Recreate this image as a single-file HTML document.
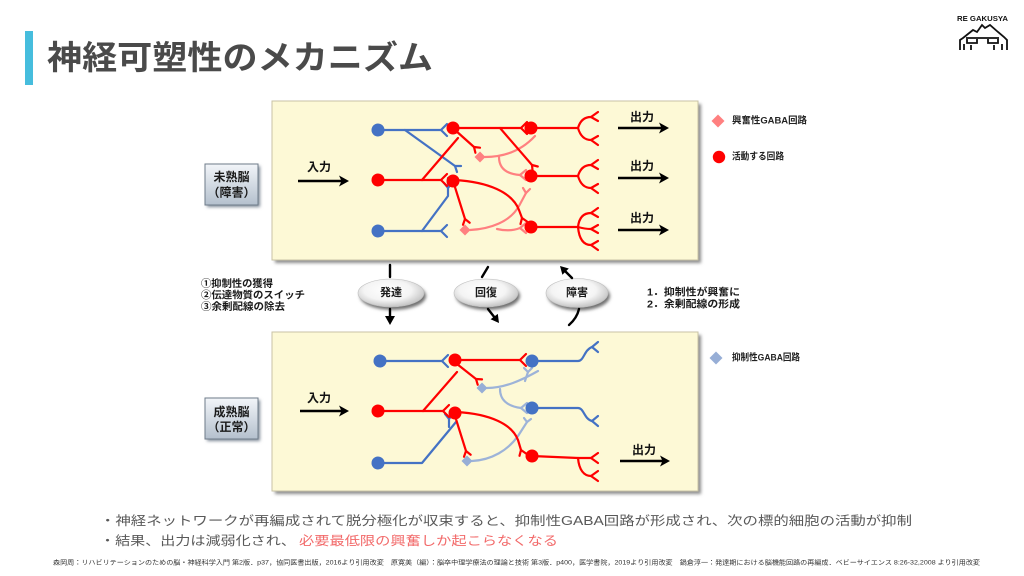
<!DOCTYPE html>
<html><head><meta charset="utf-8">
<style>
html,body{margin:0;padding:0;background:#fff;}
svg{display:block;}
text{font-family:"Liberation Sans","Noto Sans CJK JP",sans-serif;}
</style></head>
<body>
<svg width="1024" height="576" viewBox="0 0 1024 576" xmlns="http://www.w3.org/2000/svg">
<defs>
<filter id="blur" x="-20%" y="-20%" width="140%" height="140%"><feGaussianBlur stdDeviation="1.5"/></filter>
<radialGradient id="ell" cx="45%" cy="40%" r="60%">
<stop offset="0" stop-color="#ffffff"/><stop offset="0.6" stop-color="#f4f4f4"/><stop offset="1" stop-color="#c4c4c4"/>
</radialGradient>
<linearGradient id="btn" x1="0" y1="0" x2="0" y2="1">
<stop offset="0" stop-color="#f2f5f9"/><stop offset="1" stop-color="#b4c0cd"/>
</linearGradient>
</defs>

<!-- title -->
<rect x="25" y="31" width="8" height="54" fill="#46bddd"/>
<text x="47" y="57.5" font-size="33" font-weight="bold" fill="#4a4a4a" dominant-baseline="central" textLength="386" lengthAdjust="spacingAndGlyphs">神経可塑性のメカニズム</text>

<!-- logo -->
<text x="957" y="19.5" font-size="7" font-weight="bold" fill="#111" dominant-baseline="central" textLength="51" lengthAdjust="spacingAndGlyphs">RE GAKUSYA</text>
<g fill="none" stroke="#111" stroke-width="1.8" stroke-linejoin="miter">
<path d="M960,50 V40 L963,38 L973,30 L977,32 L982,25 L985,28 L990,25 L998,32 L1004,37 L1007,40 V50"/>
<path d="M966,38 H999"/>
<path d="M967,39 V43 H977 V39 M988,39 V43 H998 V39"/>
<path d="M964,44 V50 M971,45 V50 M994,45 V50 M1002,44 V50"/>
</g>

<!-- panels -->
<rect x="275" y="104" width="426" height="159" fill="#8c8c8c" filter="url(#blur)"/>
<rect x="272" y="101" width="426" height="159" fill="#fdf9d6" stroke="#c9c3a6" stroke-width="1"/>
<rect x="275" y="335" width="426" height="159" fill="#8c8c8c" filter="url(#blur)"/>
<rect x="272" y="332" width="426" height="159" fill="#fdf9d6" stroke="#c9c3a6" stroke-width="1"/>

<!-- left buttons -->
<rect x="207" y="166" width="53" height="41" fill="#7d8895" filter="url(#blur)"/>
<rect x="205" y="164" width="53" height="41" fill="url(#btn)" stroke="#6f7c8a" stroke-width="1"/>
<text x="231.5" y="177" font-size="12" font-weight="bold" fill="#1a1a1a" text-anchor="middle" dominant-baseline="central">未熟脳</text>
<text x="231.5" y="192.5" font-size="12" font-weight="bold" fill="#1a1a1a" text-anchor="middle" dominant-baseline="central">（障害）</text>
<rect x="207" y="400" width="53" height="41" fill="#7d8895" filter="url(#blur)"/>
<rect x="205" y="398" width="53" height="41" fill="url(#btn)" stroke="#6f7c8a" stroke-width="1"/>
<text x="231.5" y="412" font-size="12" font-weight="bold" fill="#1a1a1a" text-anchor="middle" dominant-baseline="central">成熟脳</text>
<text x="231.5" y="427" font-size="12" font-weight="bold" fill="#1a1a1a" text-anchor="middle" dominant-baseline="central">（正常）</text>

<!-- ===== TOP PANEL ===== -->
<g fill="none" stroke-width="2.2" stroke-linecap="round" stroke-linejoin="round">
<!-- pink -->
<g stroke="#ff8080">
<path d="M485,157 C505,157 522,150 535,136"/>
<path d="M499,157 C499,168 506,174 520,175"/>
<path d="M526,170 L520,175 L526,180"/>
<path d="M470,230 C490,229 510,222 519,206 L526,193"/>
<path d="M523,188 L526,193 L530,189"/>
<path d="M497,229 Q510,232 520,228"/>
<path d="M526,223 L520,228 L526,233"/>
</g>
<!-- blue -->
<g stroke="#4472c4">
<path d="M378,130 H441"/><path d="M447,124 L441,130 L447,136"/>
<path d="M405,130 L455,166"/><path d="M457,172 L455,166 L461,166"/>
<path d="M378,231 H441"/><path d="M447,225 L441,231 L447,237"/>
<path d="M422,231 L448,196 V178"/><path d="M444,183 L448,188 L452,183"/>
</g>
<!-- red -->
<g stroke="#ff0000">
<path d="M378,180 H441"/><path d="M447,174 L441,180 L447,186"/>
<path d="M422,180 L458,138"/>
<path d="M453,128 H521"/><path d="M527,122 L521,128 L527,134"/>
<path d="M500,128 L532,165"/><path d="M532.6,171 L532,165 L537.8,166.5"/>
<path d="M455,130 L474,147"/><path d="M475.4,152.8 L474,147 L480,147.7"/>
<path d="M455,180 C488,182 512,192 519,210 L522,218"/><path d="M520.5,224 L522,218 L527,221.5"/>
<path d="M454,184 L465,219"/><path d="M463,224.7 L465,219 L469.7,222.7"/>
<!-- outputs -->
<path d="M531,128 H578"/>
<path d="M578,128 C580,121 584,117 591,117"/><path d="M598,112 L591,117 L598,121"/>
<path d="M578,128 C580,135 584,140 591,140"/><path d="M598,136 L591,140 L598,145"/>
<path d="M531,176 H578"/>
<path d="M578,176 C580,169 584,165 591,165"/><path d="M598,160 L591,165 L598,169"/>
<path d="M578,176 C580,183 584,188 591,188"/><path d="M598,184 L591,188 L598,193"/>
<path d="M531,227 H578"/>
<path d="M578,227 C579,218 583,213 591,213"/><path d="M598,208 L591,213 L598,217"/>
<path d="M578,227 Q585,229 591,229"/><path d="M598,225 L591,229 L598,233"/>
<path d="M578,227 C579,238 583,245 591,245"/><path d="M598,241 L591,245 L598,250"/>
</g>
</g>
<polygon points="480,151.5 485.5,157 480,162.5 474.5,157" fill="#ff8080"/>
<polygon points="465,224.5 470.5,230 465,235.5 459.5,230" fill="#ff8080"/>
<g fill="#4472c4"><circle cx="378" cy="130" r="6.5"/><circle cx="378" cy="231" r="6.5"/></g>
<g fill="#ff0000">
<circle cx="378" cy="180" r="6.5"/><circle cx="453" cy="128" r="6.5"/><circle cx="453" cy="181" r="6.5"/>
<circle cx="531" cy="128" r="6.5"/><circle cx="531" cy="176" r="6.5"/><circle cx="531" cy="227" r="6.5"/>
</g>

<!-- top arrows -->
<g stroke="#000" stroke-width="2.4" fill="none">
<path d="M298,181 H342"/><path d="M618,128 H662"/><path d="M618,178 H662"/><path d="M618,230 H662"/>
</g>
<g fill="#000">
<polygon points="349,181 339,175.5 341.5,181 339,186.5"/>
<polygon points="669,128 659,122.5 661.5,128 659,133.5"/>
<polygon points="669,178 659,172.5 661.5,178 659,183.5"/>
<polygon points="669,230 659,224.5 661.5,230 659,235.5"/>
</g>
<g font-size="12" font-weight="bold" fill="#111" dominant-baseline="central">
<text x="307" y="167">入力</text>
<text x="630" y="117">出力</text>
<text x="630" y="166">出力</text>
<text x="630" y="218">出力</text>
</g>

<!-- legends -->
<polygon points="718,114.5 724.5,121 718,127.5 711.5,121" fill="#ff8080"/>
<text x="732" y="121" font-size="9.5" font-weight="bold" fill="#222" dominant-baseline="central" textLength="75" lengthAdjust="spacingAndGlyphs">興奮性GABA回路</text>
<circle cx="719" cy="157" r="6.2" fill="#ff0000"/>
<text x="732" y="157" font-size="9.5" font-weight="bold" fill="#222" dominant-baseline="central" textLength="52" lengthAdjust="spacingAndGlyphs">活動する回路</text>
<polygon points="716,351.5 722.5,358 716,364.5 709.5,358" fill="#97aed6"/>
<text x="732" y="358" font-size="9.5" font-weight="bold" fill="#222" dominant-baseline="central" textLength="68" lengthAdjust="spacingAndGlyphs">抑制性GABA回路</text>

<!-- middle -->
<g font-size="10" font-weight="bold" fill="#1a1a1a" dominant-baseline="central">
<text x="201" y="284.5" textLength="72" lengthAdjust="spacingAndGlyphs">①抑制性の獲得</text>
<text x="201" y="296" textLength="104" lengthAdjust="spacingAndGlyphs">②伝達物質のスイッチ</text>
<text x="201" y="307.5" textLength="84" lengthAdjust="spacingAndGlyphs">③余剰配線の除去</text>
<text x="647" y="293" textLength="93" lengthAdjust="spacingAndGlyphs">1．抑制性が興奮に</text>
<text x="647" y="305" textLength="93" lengthAdjust="spacingAndGlyphs">2．余剰配線の形成</text>
</g>
<g fill="#6f6f6f" filter="url(#blur)">
<ellipse cx="393" cy="296" rx="33" ry="14"/>
<ellipse cx="488" cy="296" rx="32" ry="14"/>
<ellipse cx="579" cy="296" rx="31" ry="14.5"/>
</g>
<g fill="url(#ell)" stroke="#bdbdbd" stroke-width="0.6">
<ellipse cx="391" cy="293" rx="33" ry="14"/>
<ellipse cx="486" cy="293" rx="32" ry="14"/>
<ellipse cx="577" cy="293" rx="31" ry="14.5"/>
</g>
<g font-size="11" font-weight="bold" fill="#1a1a1a" text-anchor="middle" dominant-baseline="central">
<text x="391" y="293">発達</text>
<text x="486" y="293">回復</text>
<text x="577" y="293">障害</text>
</g>
<g stroke="#000" stroke-width="2.4" fill="none" stroke-linecap="round">
<path d="M390,265 V277"/><path d="M390,309 V318"/>
<path d="M488,267 L482,277"/><path d="M488,309 L495,318"/>
<path d="M572,278 L565,271"/><path d="M579,309 Q577,318 569,325"/>
</g>
<g fill="#000">
<polygon points="390,325 385,316 395,316"/>
<polygon points="499,323 490.6,319.3 497.8,313.9"/>
<polygon points="560,266 568.8,268.5 562.4,274.8"/>
</g>

<!-- ===== BOTTOM PANEL ===== -->
<g fill="none" stroke-width="2.2" stroke-linecap="round" stroke-linejoin="round">
<g stroke="#9db3d8">
<path d="M487,388 C505,388 522,380 538,371"/>
<path d="M525,381 L528,372"/><path d="M524,368 L528,372 L532,368"/>
<path d="M500,389 C500,400 507,406 521,408"/><path d="M527,403 L521,408 L527,413"/>
<path d="M472,461 C492,460 508,450 518,436 L527,422"/><path d="M524,418 L527,422 L531,419"/>
</g>
<g stroke="#4472c4">
<path d="M380,361 H442"/><path d="M448,355 L442,361 L448,367"/>
<path d="M378,463 H422 L456,422"/>
<path d="M449,427 V419"/><path d="M445,414 L449,419 L453,414"/>
<path d="M532,361 H578 C584,361 584,350 592,347"/><path d="M598,342 L592,347 L598,352"/>
<path d="M532,408 H578 C584,408 584,419 592,421"/><path d="M598,416 L592,421 L598,426"/>
</g>
<g stroke="#ff0000">
<path d="M378,411 H443"/><path d="M449,405 L443,411 L449,417"/>
<path d="M423,411 L457,372"/>
<path d="M455,360 H520"/><path d="M526,354 L520,360 L526,366"/>
<path d="M457,364 L476,379"/><path d="M477.7,384.7 L476,379 L482,379.4"/>
<path d="M457,412 C490,414 512,424 518,440 L521,450"/><path d="M519.5,455.8 L521,450 L526,453.5"/>
<path d="M455,416 L466,451"/><path d="M464,456.7 L466,451 L470.7,454.7"/>
<path d="M532,456 L578,458 H591"/><path d="M598,453 L591,458 L598,463"/>
<path d="M578,458 C579,470 584,476 591,476"/><path d="M598,471 L591,476 L598,481"/>
</g>
</g>
<polygon points="482,382.5 487.5,388 482,393.5 476.5,388" fill="#97aed6"/>
<polygon points="467,455.5 472.5,461 467,466.5 461.5,461" fill="#97aed6"/>
<g fill="#4472c4"><circle cx="380" cy="361" r="6.5"/><circle cx="378" cy="463" r="6.5"/><circle cx="532" cy="361" r="6.5"/><circle cx="532" cy="408" r="6.5"/></g>
<g fill="#ff0000"><circle cx="378" cy="411" r="6.5"/><circle cx="455" cy="360" r="6.5"/><circle cx="455" cy="413" r="6.5"/><circle cx="532" cy="456" r="6.5"/></g>
<g stroke="#000" stroke-width="2.4" fill="none"><path d="M300,411 H342"/><path d="M620,461 H663"/></g>
<g fill="#000">
<polygon points="349,411 339,405.5 341.5,411 339,416.5"/>
<polygon points="670,461 660,455.5 662.5,461 660,466.5"/>
</g>
<g font-size="12" font-weight="bold" fill="#111" dominant-baseline="central">
<text x="307" y="398">入力</text>
<text x="632" y="450">出力</text>
</g>

<!-- bullets -->
<text x="100" y="521" font-size="12.5" fill="#595959" dominant-baseline="central" textLength="812" lengthAdjust="spacingAndGlyphs">・神経ネットワークが再編成されて脱分極化が収束すると、抑制性GABA回路が形成され、次の標的細胞の活動が抑制</text>
<text x="100" y="541" font-size="12.5" fill="#595959" dominant-baseline="central" textLength="196" lengthAdjust="spacingAndGlyphs">・結果、出力は減弱化され、</text>
<text x="299" y="541" font-size="12.5" fill="#f26a6a" dominant-baseline="central" textLength="259" lengthAdjust="spacingAndGlyphs">必要最低限の興奮しか起こらなくなる</text>

<!-- footer -->
<text x="53" y="563" font-size="6.5" fill="#333" dominant-baseline="central" textLength="927" lengthAdjust="spacingAndGlyphs">森岡周：リハビリテーションのための脳・神経科学入門 第2版．p37，協同医書出版，2016より引用改変　原寛美（編）：脳卒中理学療法の理論と技術 第3版．p400，医学書院，2019より引用改変　鍋倉淳一：発達期における脳機能回路の再編成．ベビーサイエンス 8:26-32,2008 より引用改変</text>
</svg>
</body></html>
